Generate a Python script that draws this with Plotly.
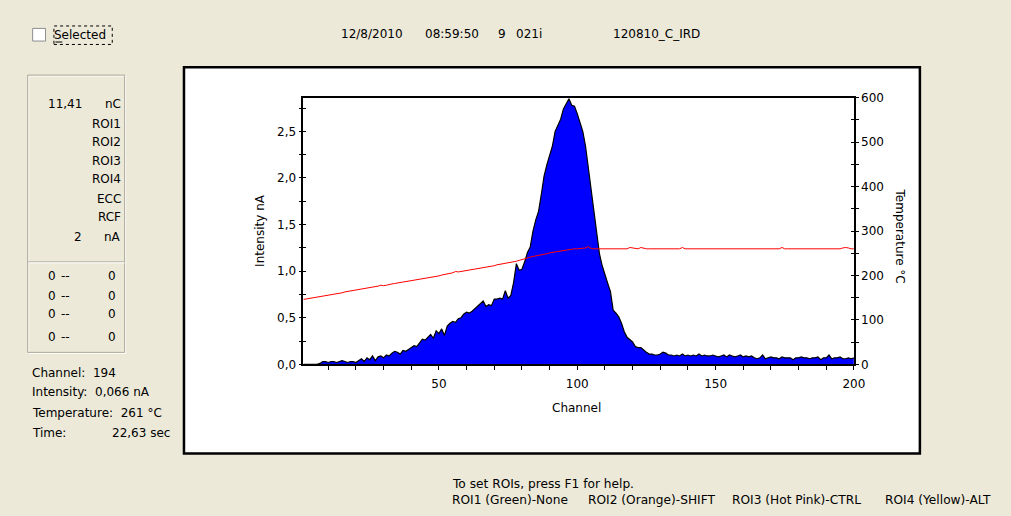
import plotly.graph_objects as go

W, H = 1011, 516

# ---------------- data ----------------
channels = list(range(1, 201))

intensity_nA = [
    0.00, 0.00, 0.00, 0.00, 0.00, 0.00, 0.01, 0.03, 0.03, 0.02,
    0.03, 0.03, 0.02, 0.03, 0.04, 0.03, 0.02, 0.03, 0.03, 0.02,
    0.04, 0.06, 0.03, 0.07, 0.05, 0.09, 0.04, 0.08, 0.09, 0.07,
    0.10, 0.09, 0.12, 0.14, 0.13, 0.11, 0.15, 0.14, 0.16, 0.18,
    0.20, 0.19, 0.23, 0.27, 0.26, 0.29, 0.32, 0.28, 0.36, 0.33,
    0.38, 0.31, 0.41, 0.44, 0.46, 0.45, 0.49, 0.50, 0.54, 0.56,
    0.55, 0.57, 0.60, 0.63, 0.66, 0.68, 0.62, 0.64, 0.63, 0.70,
    0.70, 0.71, 0.70, 0.79, 0.71, 0.74, 0.88, 1.08, 1.01, 1.02,
    1.10, 1.20, 1.26, 1.43, 1.55, 1.64, 1.82, 2.02, 2.14, 2.24,
    2.34, 2.50, 2.56, 2.63, 2.74, 2.80, 2.85, 2.78, 2.77, 2.69,
    2.60, 2.50, 2.34, 2.12, 1.88, 1.68, 1.47, 1.19, 1.06, 0.95,
    0.87, 0.78, 0.58, 0.55, 0.51, 0.44, 0.35, 0.29, 0.26, 0.24,
    0.19, 0.18, 0.18, 0.15, 0.13, 0.11, 0.11, 0.10, 0.10, 0.11,
    0.13, 0.12, 0.10, 0.10, 0.09, 0.10, 0.09, 0.11, 0.09, 0.10,
    0.09, 0.10, 0.09, 0.11, 0.09, 0.10, 0.09, 0.09, 0.10, 0.09,
    0.08, 0.09, 0.10, 0.08, 0.10, 0.09, 0.08, 0.09, 0.10, 0.08,
    0.09, 0.08, 0.09, 0.07, 0.06, 0.07, 0.10, 0.06, 0.07, 0.08,
    0.07, 0.07, 0.06, 0.08, 0.07, 0.07, 0.07, 0.05, 0.07, 0.07,
    0.08, 0.07, 0.07, 0.06, 0.07, 0.07, 0.08, 0.05, 0.07, 0.07,
    0.10, 0.06, 0.07, 0.07, 0.08, 0.06, 0.06, 0.07, 0.06, 0.07,
]

temperature_C = [
    146, 147, 148, 149, 150, 151, 152, 153, 155, 156,
    157, 158, 159, 160, 161, 163, 164, 165, 166, 167,
    168, 169, 170, 171, 172, 173, 174, 176, 178, 177,
    178, 180, 181, 182, 183, 184, 185, 186, 187, 188,
    189, 190, 191, 192, 194, 195, 196, 197, 198, 199,
    201, 202, 203, 204, 206, 209, 208, 209, 210, 211,
    213, 214, 215, 216, 217, 218, 219, 220, 221, 222,
    224, 225, 226, 227, 228, 229, 230, 232, 234, 236,
    238, 240, 241, 243, 244, 245, 247, 248, 249, 251,
    252, 253, 254, 256, 257, 258, 259, 259, 260, 260,
    261, 261, 262, 265, 261, 260, 260, 260, 260, 260,
    260, 260, 260, 260, 260, 260, 260, 260, 263, 262,
    260, 260, 263, 261, 260, 260, 260, 260, 260, 260,
    260, 260, 260, 260, 260, 260, 260, 263, 260, 260,
    260, 260, 260, 260, 260, 260, 260, 260, 260, 260,
    260, 260, 260, 260, 260, 260, 260, 260, 260, 260,
    260, 260, 260, 260, 260, 260, 260, 260, 260, 260,
    260, 260, 260, 263, 260, 260, 260, 260, 260, 260,
    260, 260, 260, 260, 260, 260, 260, 260, 260, 260,
    260, 260, 260, 260, 260, 262, 263, 262, 260, 260,
]

x_tick_vals = [50, 100, 150, 200]
y_tick_vals = [0.0, 0.5, 1.0, 1.5, 2.0, 2.5]
t_tick_vals = [0, 100, 200, 300, 400, 500, 600]

header_items = [("12/8/2010", 345), ("08:59:50", 430), ("9", 503), ("021i", 522), ("120810_C_IRD", 620)]
panel_values = [("11,41", "nC"), ("", "ROI1"), ("", "ROI2"), ("", "ROI3"), ("", "ROI4"), ("", "ECC"), ("", "RCF"), ("2", "nA")]
roi_rows = [("0", "--", "0")] * 4
status_lines = ["Channel:\u00a0\u00a0194", "Intensity:\u00a0\u00a00,066 nA", "Temperature:\u00a0\u00a0261 °C", "Time:"]
time_value = "22,63 sec"
roi_help = ["ROI1 (Green)-None", "ROI2 (Orange)-SHIFT", "ROI3 (Hot Pink)-CTRL", "ROI4 (Yellow)-ALT"]

# ---------------- layout geometry ----------------
BG = "#ECE9D8"
FONT = "DejaVu Sans"
FS = 12

def px(x):
    return x / W

def py(y):
    return 1 - y / H

plot_l, plot_r, plot_t, plot_b = 306.7, 863.3, 93.3, 367.3
xdom = [px(plot_l), px(plot_r)]
ydom = [py(plot_b), py(plot_t)]

fig = go.Figure()

fig.add_trace(go.Scatter(
    x=channels, y=intensity_nA, mode="lines", fill="tozeroy",
    fillcolor="#0000FF", line=dict(color="black", width=1.2),
    hoverinfo="skip", showlegend=False, xaxis="x", yaxis="y"))

fig.add_trace(go.Scatter(
    x=channels, y=temperature_C, mode="lines",
    line=dict(color="#FF0000", width=1),
    hoverinfo="skip", showlegend=False, xaxis="x", yaxis="y2"))

fig.add_trace(go.Scatter(x=channels, y=intensity_nA, mode="lines", opacity=0,
                         hoverinfo="skip", showlegend=False, xaxis="x", yaxis="y3"))
fig.add_trace(go.Scatter(x=channels, y=temperature_C, mode="lines", opacity=0,
                         hoverinfo="skip", showlegend=False, xaxis="x", yaxis="y4"))

axfont = dict(family=FONT, size=FS, color="black")
YMAX = 2.86

fig.update_layout(
    width=W, height=H, autosize=False,
    margin=dict(l=0, r=0, t=0, b=0),
    paper_bgcolor=BG, plot_bgcolor="white",
    separators=", ",
    font=dict(family=FONT, size=FS, color="black"),
    showlegend=False,
    xaxis=dict(domain=xdom, range=[1, 200], tickvals=x_tick_vals, ticks="outside",
               ticklen=4, tickwidth=1, tickcolor="black", ticklabelstandoff=4,
               minor=dict(dtick=10, ticks="outside", ticklen=4, tickcolor="black", tickwidth=1),
               showline=True, linecolor="black", linewidth=1.5, mirror=True,
               showgrid=False, zeroline=False, tickfont=axfont, anchor="y", fixedrange=True),
    yaxis=dict(domain=ydom, range=[0, YMAX], tickvals=y_tick_vals, tickformat=".1f",
               ticks="outside", ticklen=3, tickcolor="black", tickwidth=1,
               minor=dict(dtick=0.25, ticks="outside", ticklen=3, tickcolor="black", tickwidth=1),
               showline=True, linecolor="black", linewidth=1.5,
               showgrid=False, zeroline=False, tickfont=axfont, anchor="x", fixedrange=True),
    yaxis2=dict(domain=ydom, range=[0, 600], tickvals=t_tick_vals, side="right", overlaying="y",
                ticks="outside", ticklen=3, tickcolor="black", tickwidth=1,
                minor=dict(dtick=50, ticks="outside", ticklen=3, tickcolor="black", tickwidth=1),
                showline=True, linecolor="black", linewidth=1.5,
                showgrid=False, zeroline=False, tickfont=axfont, anchor="x", fixedrange=True),
    yaxis3=dict(range=[0, YMAX], dtick=0.25, overlaying="y", side="left", ticks="inside",
                ticklen=3, tickcolor="black", showticklabels=False, showgrid=False,
                zeroline=False, showline=False, anchor="x", fixedrange=True),
    yaxis4=dict(range=[0, 600], dtick=50, overlaying="y", side="right", ticks="inside",
                ticklen=3, tickcolor="black", showticklabels=False, showgrid=False,
                zeroline=False, showline=False, anchor="x", fixedrange=True),
)

shapes = []
# chart frame
shapes.append(dict(type="rect", xref="paper", yref="paper", x0=px(186), x1=px(930), y0=py(459), y1=py(62),
                   fillcolor="white", line=dict(color="black", width=2.5), layer="below"))
# left group box (etched)
shapes.append(dict(type="rect", xref="paper", yref="paper", x0=px(29), x1=px(127), y0=py(356), y1=py(71),
                   line=dict(color="white", width=1), layer="below"))
shapes.append(dict(type="rect", xref="paper", yref="paper", x0=px(28), x1=px(126), y0=py(355), y1=py(70),
                   line=dict(color="#ACA899", width=1), layer="below"))
shapes.append(dict(type="line", xref="paper", yref="paper", x0=px(28), x1=px(126), y0=py(262), y1=py(262),
                   line=dict(color="#ACA899", width=1), layer="below"))
shapes.append(dict(type="line", xref="paper", yref="paper", x0=px(29), x1=px(126), y0=py(263), y1=py(263),
                   line=dict(color="white", width=1), layer="below"))
# checkbox
shapes.append(dict(type="rect", xref="paper", yref="paper", x0=px(33), x1=px(46), y0=py(35), y1=py(22),
                   fillcolor="white", line=dict(color="#8E8F8F", width=1), layer="below"))
# focus rectangle around "Selected"
shapes.append(dict(type="rect", xref="paper", yref="paper", x0=px(54.5), x1=px(113.5), y0=py(38.5), y1=py(19.5),
                   line=dict(color="black", width=1, dash="dot"), layer="above"))
# underline of S
shapes.append(dict(type="line", xref="paper", yref="paper", x0=px(56), x1=px(63), y0=py(36), y1=py(36),
                   line=dict(color="black", width=1), layer="above"))
fig.update_layout(shapes=shapes)

ann = []

def text(s, x, y, anchor="left", size=FS, angle=0):
    ann.append(dict(text=s, x=px(x), y=py(y), xref="paper", yref="paper", showarrow=False,
                    xanchor=anchor, yanchor="middle", textangle=angle, borderpad=0, borderwidth=0,
                    font=dict(family=FONT, size=size, color="black")))

text("Selected", 55, 29)
for s, x in header_items:
    text(s, x, 28)

row_y = [100, 120, 139, 158, 177, 197, 216, 236]
for (v, u), yy in zip(panel_values, row_y):
    if v:
        text(v, 83, yy, anchor="right")
    text(u, 122, yy, anchor="right")

roi_y = [277, 297, 316, 339]
for (a, b, c), yy in zip(roi_rows, roi_y):
    text(a, 57, yy, anchor="right")
    text(b, 62, yy)
    text(c, 117, yy, anchor="right")

stat_y = [376, 396, 417, 438]
for lab, yy in zip(status_lines, stat_y):
    text(lab, 32, yy)
text(time_value, 172, stat_y[-1], anchor="right")

# axis titles
text("Intensity nA", 263, 230, anchor="center", angle=-90)
text("Temperature °C", 910, 235, anchor="center", angle=90)
text("Channel", 583, 412, anchor="center")

BFS = 12.2
text("To set ROIs, press F1 for help.", 457, 490, size=BFS)
for s, x in zip(roi_help, [457, 594, 740, 895]):
    text(s, x, 507, size=BFS)

fig.update_layout(annotations=ann)

fig.write_html("out.html")
